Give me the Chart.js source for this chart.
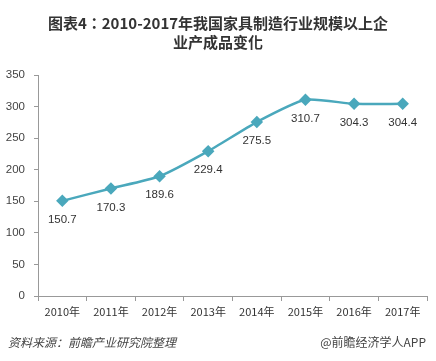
<!DOCTYPE html>
<html><head><meta charset="utf-8">
<script src="https://cdn.jsdelivr.net/npm/chart.js@4"></script>
<style>
html,body{margin:0;padding:0;background:#fff;width:436px;height:361px;overflow:hidden;}
#wrap{position:absolute;left:0;top:0;width:436px;height:361px;}
.title{position:absolute;left:0;width:436px;text-align:center;font-family:"Noto Sans CJK TC","Noto Sans CJK SC",sans-serif;font-weight:bold;font-size:15px;color:#333;line-height:19px;}
.foot{position:absolute;top:333px;font-family:"Noto Sans CJK SC","Noto Sans",sans-serif;font-size:12px;color:#444;}
</style></head><body>
<div id="wrap"><canvas id="c" width="436" height="361"></canvas></div>
<div class="title" style="top:13px">图表4：2010-2017年我国家具制造行业规模以上企<br>业产成品变化</div>
<div class="foot" style="left:8px;font-style:italic;">资料来源：前瞻产业研究院整理</div>
<div class="foot" style="right:10px;">@前瞻经济学人APP</div>
<script>
const categories = ["2010年","2011年","2012年","2013年","2014年","2015年","2016年","2017年"];
const values = [150.7,170.3,189.6,229.4,275.5,310.7,304.3,304.4];
const yTicks = [0,50,100,150,200,250,300,350];

const labelPlugin = {
  id:'labels',
  afterDatasetsDraw(chart){
    const ctx = chart.ctx;
    const meta = chart.getDatasetMeta(0);
    ctx.save();
    ctx.font = '11.5px "Liberation Sans", Arial, sans-serif';
    ctx.fillStyle = '#333';
    ctx.textAlign = 'center';
    ctx.textBaseline = 'middle';
    meta.data.forEach((p,i)=>{
      ctx.fillText(values[i].toFixed(1), p.x, p.y + 19);
    });
    ctx.restore();
  }
};

new Chart(document.getElementById('c'), {
  type:'line',
  data:{labels:categories, datasets:[{data:values, borderColor:'#4AA8BC', backgroundColor:'#4AA8BC', borderWidth:2.5, tension:0.2, pointStyle:'rectRot', pointRadius:4.5, pointHoverRadius:4.5}]},
  options:{
    responsive:false, animation:false,
    layout:{padding:{left:0,right:9,top:75,bottom:35}},
    plugins:{legend:{display:false}, title:{display:false}, tooltip:{enabled:false}},
    scales:{
      x:{
        offset:true,
        grid:{display:true, drawOnChartArea:false, offset:true, tickLength:5, color:'#999'},
        border:{display:true,color:'#999'},
        ticks:{font:{size:11,family:'"Noto Sans CJK SC", sans-serif'}, color:'#333', padding:4, maxRotation:0},
        afterFit(s){ s.height = 30; }
      },
      y:{
        min:0,max:350,
        afterBuildTicks(s){ s.ticks = yTicks.map(v=>({value:v})); },
        grid:{display:true, drawOnChartArea:false, tickLength:4, color:'#999'},
        border:{display:true,color:'#999'},
        ticks:{font:{size:11.5,family:'"Liberation Sans", Arial, sans-serif'}, color:'#444', padding:9},
        afterFit(s){ s.width = 38; }
      }
    }
  },
  plugins:[labelPlugin]
});
</script>
</body></html>
